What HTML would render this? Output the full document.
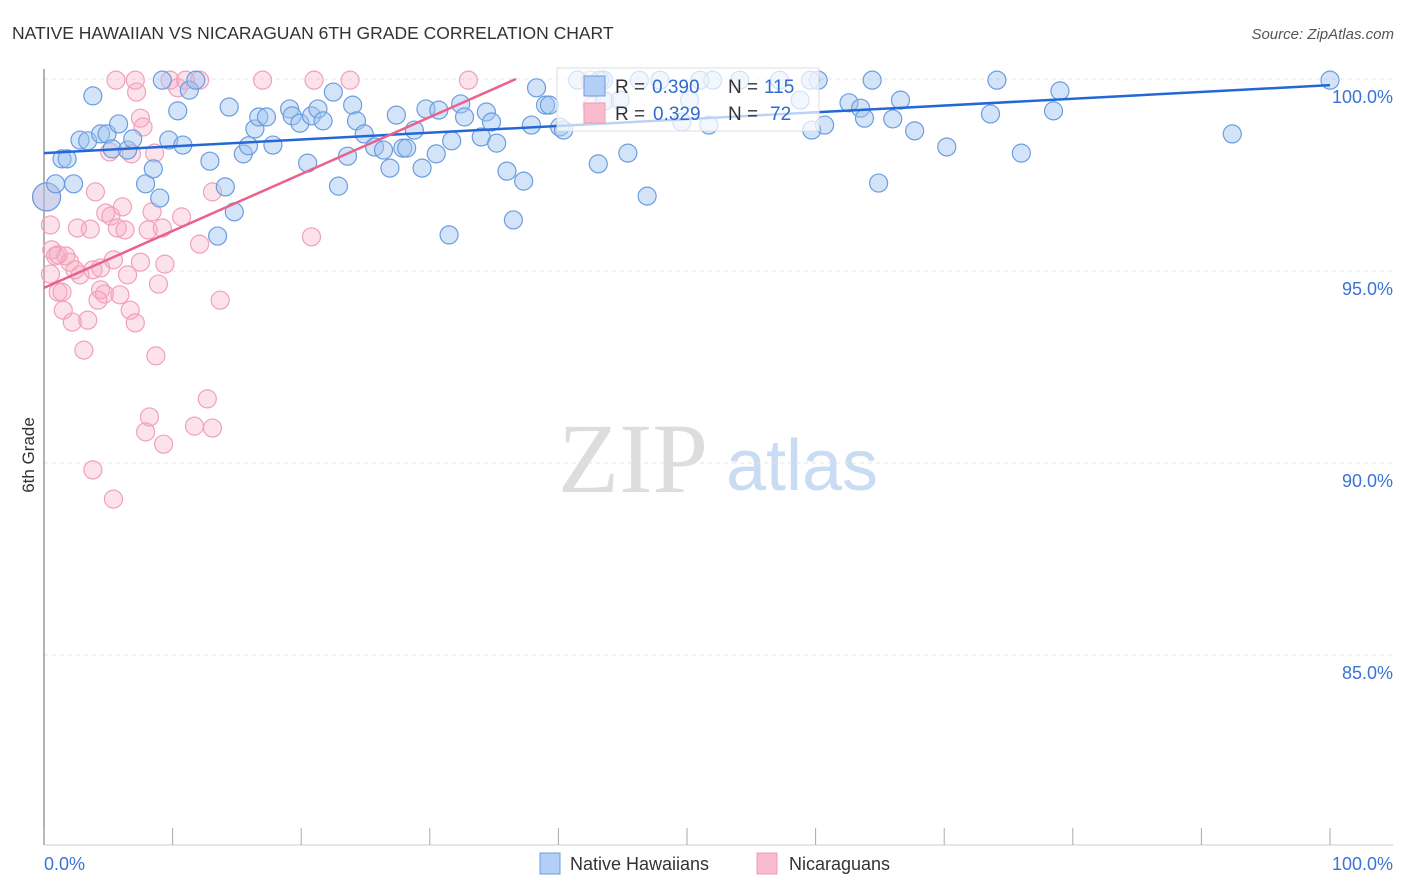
<!DOCTYPE html>
<html><head><meta charset="utf-8"><style>
body{margin:0;background:#fff;font-family:"Liberation Sans",sans-serif}
svg{display:block}
</style></head><body>
<svg id="chart" width="1406" height="892">
<text x="12" y="39" font-size="17.5" fill="#333">NATIVE HAWAIIAN VS NICARAGUAN 6TH GRADE CORRELATION CHART</text>
<text x="1394" y="39" font-size="15" fill="#555" font-style="italic" text-anchor="end">Source: ZipAtlas.com</text>
<text x="0" y="0" transform="translate(34,455) rotate(-90)" font-size="17" fill="#333" text-anchor="middle">6th Grade</text>
<g>
<text x="633" y="492" font-size="100" font-family="Liberation Serif,serif" fill="#ddd" text-anchor="middle">ZIP</text>
<text x="802" y="490" font-size="72" fill="#c9dcf3" text-anchor="middle">atlas</text>
</g>
<g id="grid"></g>
<g id="axes"></g>
<g id="pts"></g>
<g id="trend"></g>
<g>
<rect x="557" y="68" width="262" height="63" fill="rgba(255,255,255,0.7)" stroke="#ddd"/>
<rect x="584" y="76" width="21" height="20" fill="#b3cff5" stroke="#6a9de0"/>
<rect x="584" y="103" width="21" height="20" fill="#f8bccd" stroke="#f09ab5"/>
<text x="615" y="93" font-size="19" fill="#333">R =</text>
<text x="652" y="93" font-size="19" fill="#2f6bd0">0.390</text>
<text x="728" y="93" font-size="19" fill="#333">N =</text>
<text x="764" y="93" font-size="19" fill="#2f6bd0">115</text>
<text x="615" y="120" font-size="19" fill="#333">R =</text>
<text x="653" y="120" font-size="19" fill="#2f6bd0">0.329</text>
<text x="728" y="120" font-size="19" fill="#333">N =</text>
<text x="770" y="120" font-size="19" fill="#2f6bd0">72</text>
</g>
<g>
<rect x="540" y="853" width="20" height="21" fill="#b3cff5" stroke="#6a9de0"/>
<text x="570" y="870" font-size="18" fill="#333">Native Hawaiians</text>
<rect x="757" y="853" width="20" height="21" fill="#f8bccd" stroke="#f09ab5"/>
<text x="789" y="870" font-size="18" fill="#333">Nicaraguans</text>
</g>
</svg>
<script>
const blueX=[0.2,0.9,1.4,1.8,2.3,2.8,3.4,3.8,4.4,4.9,5.3,5.8,6.5,6.9,7.9,8.5,9.0,9.2,9.7,10.4,10.8,11.3,11.8,12.9,13.5,14.1,14.4,14.8,15.5,15.9,16.4,16.7,17.3,17.8,19.1,19.3,19.9,20.5,20.8,21.3,21.7,22.5,22.9,23.6,24.0,24.3,24.9,25.7,26.4,26.9,27.4,27.9,28.2,28.8,29.4,29.7,30.5,30.7,31.5,31.7,32.4,32.7,34.0,34.4,34.8,35.2,36.0,36.5,37.3,37.9,38.3,39.0,39.3,40.1,40.4,41.5,43.1,43.5,43.6,45.4,46.9,47.9,49.6,51.7,52.0,59.7,60.2,60.7,62.6,63.5,63.8,64.4,64.9,66.0,67.7,70.2,73.6,74.1,76.0,78.5,79.0,92.4,100,43.2,46.3,51.0,54.1,57.2,59.6,44.8,50.2,58.8,66.6];
const blueY=[96.93,97.27,97.92,97.92,97.27,98.41,98.39,99.56,98.57,98.57,98.18,98.83,98.15,98.44,97.27,97.66,96.90,99.97,98.41,99.17,98.28,99.71,99.97,97.86,95.91,97.19,99.27,96.54,98.05,98.26,98.70,99.01,99.01,98.28,99.22,99.04,98.85,97.81,99.04,99.22,98.91,99.66,97.21,97.99,99.32,98.91,98.57,98.23,98.15,97.68,99.06,98.20,98.20,98.67,97.68,99.22,98.05,99.19,95.94,98.39,99.35,99.01,98.49,99.14,98.88,98.33,97.60,96.33,97.34,98.80,99.77,99.32,99.32,98.75,98.67,99.97,97.79,99.97,99.43,98.07,96.95,99.97,98.88,98.80,99.97,98.67,99.97,98.80,99.38,99.24,98.98,99.97,97.29,98.96,98.65,98.23,99.09,99.97,98.07,99.17,99.69,98.57,99.97,99.97,99.97,99.97,99.97,99.97,99.97,99.45,99.45,99.45,99.45];
const pinkX=[0.2,0.5,0.5,0.6,0.9,1.1,1.4,1.5,1.7,2.0,2.2,2.6,2.8,3.1,3.4,3.6,3.8,4.0,4.4,4.4,4.7,4.8,5.1,5.2,5.4,5.7,5.9,6.1,6.3,6.5,6.7,6.8,7.1,7.2,7.5,7.7,8.1,8.4,8.6,8.7,8.9,9.2,7.5,7.9,8.2,9.3,9.4,9.8,10.4,10.7,11.0,11.7,12.1,12.1,12.7,13.1,13.1,13.7,3.8,5.4,5.6,7.1,17.0,20.8,21.0,23.8,33.0,42.5,42.6,1.1,2.4,4.2];
const pinkY=[96.93,96.20,94.92,95.55,95.39,94.45,94.45,93.98,95.39,95.23,93.67,96.12,94.90,92.94,93.72,96.09,95.03,97.06,95.08,94.51,94.40,96.51,98.10,96.43,95.29,96.12,94.38,96.67,96.07,94.90,93.98,98.05,93.65,99.66,98.98,98.75,96.07,96.54,98.07,92.79,94.66,96.12,95.23,90.81,91.20,90.49,95.18,99.97,99.77,96.41,99.97,90.96,95.70,99.97,91.67,90.91,97.06,94.24,89.82,89.06,99.97,99.97,99.97,95.89,99.97,99.97,99.97,99.97,99.30,95.42,95.03,94.24];
const blueTrend=[98.07,99.84];
const pinkTrend=[94.56,100];
const pinkTrendEnd=36.7;
const yTicks=[100,95,90,85];
const yTickLabels=["100.0%","95.0%","90.0%","85.0%"];
const xTicks=[0,10,20,30,40,50,60,70,80,90,100];
const NS="http://www.w3.org/2000/svg";
const sx=v=>44+v*12.86;
const sy=v=>79+(100-v)*38.4;
function mk(tag,attrs,parent){const e=document.createElementNS(NS,tag);for(const k in attrs)e.setAttribute(k,attrs[k]);document.getElementById(parent).appendChild(e);return e;}
yTicks.forEach((t,i)=>{
 const l=mk('line',{x1:44,x2:1393,y1:sy(t),y2:sy(t),stroke:'#e4e4e4','stroke-dasharray':'4,4'},'grid');
 
 
 const tx=mk('text',{x:1393,y:sy(t)+24,'font-size':18,fill:'#3b73d4','text-anchor':'end'},'grid');
 tx.textContent=yTickLabels[i];
 
 
});
const ya=mk('line',{x1:44,x2:44,y1:69,y2:845,stroke:'#999','stroke-width':1.5},'axes');


const xa=mk('line',{x1:44,x2:1393,y1:845,y2:845,stroke:'#ccc'},'axes');


xTicks.forEach(t=>{
 const l=mk('line',{x1:sx(t),x2:sx(t),y1:828,y2:845,stroke:'#aaa'},'axes');
 
 
});
const xl0=mk('text',{x:44,y:870,'font-size':18,fill:'#3b73d4'},'axes');xl0.textContent='0.0%';


const xl1=mk('text',{x:1393,y:870,'font-size':18,fill:'#3b73d4','text-anchor':'end'},'axes');xl1.textContent='100.0%';


pinkX.forEach((x,i)=>{
 const c=mk('circle',{cx:sx(x),cy:sy(pinkY[i]),r:i==0?14:9,fill:'rgba(246,170,195,0.33)',stroke:'#f2a0ba','stroke-width':1.2},'pts');
 
 
});
blueX.forEach((x,i)=>{
 const c=mk('circle',{cx:sx(x),cy:sy(blueY[i]),r:i==0?14:9,fill:'rgba(160,196,240,0.45)',stroke:'#6a9de0','stroke-width':1.2},'pts');
 
 
});
const bt=mk('line',{x1:sx(0),y1:sy(blueTrend[0]),x2:sx(100),y2:sy(blueTrend[1]),stroke:'#2468d6','stroke-width':2.5},'trend');


const pt=mk('line',{x1:sx(0),y1:sy(pinkTrend[0]),x2:sx(pinkTrendEnd),y2:sy(pinkTrend[1]),stroke:'#e8628c','stroke-width':2.5},'trend');


</script>
</body></html>
